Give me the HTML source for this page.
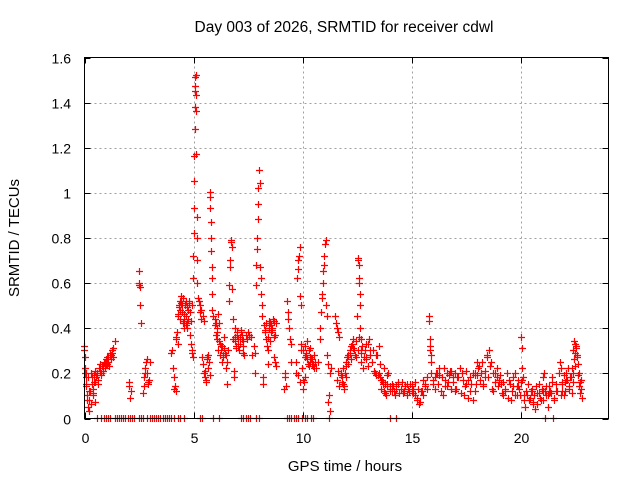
<!DOCTYPE html>
<html><head><meta charset="utf-8"><style>
html,body{margin:0;padding:0;background:#fff;}
svg{display:block;font-family:"Liberation Sans",Arial,sans-serif;}
</style></head><body>
<svg id="chart" width="640" height="480" viewBox="0 0 640 480" xmlns="http://www.w3.org/2000/svg">
<rect width="640" height="480" fill="#fff"/>
<text x="344" y="32" font-size="15.5" text-anchor="middle" fill="#000">Day 003 of 2026, SRMTID for receiver cdwl</text>
<text x="345" y="471" font-size="15" text-anchor="middle" fill="#000">GPS time / hours</text>
<text transform="translate(19,238) rotate(-90)" font-size="15" text-anchor="middle" fill="#000">SRMTID / TECUs</text>
<g id="grid"></g>
<g id="ticks"></g>
<g id="points" stroke="#ff0000" stroke-width="1.2" fill="none"></g>
<rect x="84.5" y="57.5" width="524" height="361" fill="none" stroke="#000" stroke-width="1"/>
</svg>
<script>
const xTicks = [0,5,10,15,20];
const yTicks = [0,0.2,0.4,0.6,0.8,1,1.2,1.4,1.6];
const yTickLabels = ["0","0.2","0.4","0.6","0.8","1","1.2","1.4","1.6"];
const segStart = [0,0.1,0.5,2.05,2.5,2.7,4.0,4.2,4.85,5.0,5.25,5.5,5.75,6.0,6.5,7.0,7.45,7.8,8.25,9.15,9.7,10.1,10.8,11.5,12.0,12.55,12.8,13.5,14.0,15.0,15.8,16.0,17.0,18.0,19.0,20.0,20.3,21.0,21.8,22.3];
const segEnd   = [0.1,0.5,1.4,2.15,2.6,3.0,4.2,4.8,5.0,5.2,5.5,5.75,5.9,6.4,6.95,7.3,7.7,8.2,8.8,9.5,10.1,10.6,11.3,12.0,12.5,12.7,13.5,14.0,15.0,15.7,15.9,17.0,18.0,19.0,20.0,20.2,21.0,21.6,22.2,22.8];
const segValues = [
[0.32,0.3,0.27,0.22,0.2,0.18],
[0.15,0.1,0.05,0.03,0.08,0.12,0.2,0.18,0.13,0.1,0.16,0.21],
[0.16,0.18,0.2,0.15,0.22,0.24,0.19,0.23,0.25,0.22,0.26,0.24,0.27,0.23,0.28,0.26,0.29,0.31,0.34],
[0.16,0.14,0.09,0.12],
[0.65,0.6,0.59,0.58,0.5,0.42],
[0.11,0.14,0.18,0.2,0.22,0.25,0.26,0.2,0.16,0.15,0.17,0.25],
[0.29,0.3,0.22,0.18,0.13,0.14,0.12],
[0.35,0.36,0.38,0.33,0.45,0.5,0.52,0.48,0.54,0.5,0.47,0.42,0.43,0.4,0.5,0.52,0.45,0.42,0.4,0.48,0.51],
[0.37,0.33,0.3,0.29,0.27],
[0.62,0.72,0.82,0.93,1.05,1.16,1.28,1.38,1.45,1.47,1.51,1.52,1.43,1.36,1.17,0.89,0.8,0.7,0.6,0.53],
[0.52,0.5,0.48,0.45,0.43],
[0.2,0.18,0.16,0.27,0.28,0.25,0.19],
[1.0,0.98,0.93,0.87,0.8,0.74,0.67,0.62,0.55,0.48,0.45],
[0.44,0.42,0.4,0.38,0.46,0.42,0.33,0.32,0.3,0.25,0.28,0.31],
[0.28,0.22,0.15,0.25,0.3,0.52,0.59,0.67,0.7,0.78,0.79,0.76,0.57,0.44,0.35,0.21,0.18,0.36,0.4,0.32],
[0.38,0.35,0.32,0.3,0.36,0.33,0.38,0.37,0.34,0.29],
[0.35,0.38,0.37,0.36,0.28],
[0.32,0.29,0.2,0.59,0.68,0.75,0.8,0.88,0.95,1.02,1.1,1.1,1.04,0.67,0.62,0.55,0.5,0.45,0.18,0.15],
[0.41,0.39,0.35,0.32,0.3,0.24,0.43,0.42,0.38,0.4,0.44,0.43,0.36,0.25,0.23],
[0.13,0.2,0.18,0.14,0.52,0.47,0.44,0.4,0.35,0.33,0.25],
[0.2,0.25,0.62,0.66,0.7,0.72,0.76,0.54,0.5,0.3,0.22,0.17,0.13,0.16,0.18],
[0.32,0.28,0.34,0.3,0.25,0.26,0.24,0.22,0.25],
[0.35,0.4,0.47,0.53,0.55,0.6,0.65,0.68,0.72,0.77,0.79,0.5,0.45,0.28,0.24,0.07,0.1,0.03,0.2,0.22],
[0.45,0.42,0.4,0.38,0.36,0.2,0.18,0.15,0.14,0.2,0.23],
[0.25,0.27,0.28,0.3,0.32,0.33,0.35,0.3,0.27,0.45],
[0.71,0.7,0.68,0.62,0.6,0.55,0.5,0.4,0.35,0.3,0.25],
[0.22,0.3,0.26,0.33,0.35,0.28,0.25,0.3,0.2,0.19,0.28,0.32],
[0.2,0.18,0.17,0.15,0.12,0.1,0.14,0.2,0.12],
[0.13,0.15,0.12,0.14,0.16,0.13,0.11,0.14,0.15,0.12,0.14],
[0.15,0.13,0.1,0.08,0.06,0.12,0.17,0.14,0.18],
[0.45,0.43,0.35,0.32,0.3,0.28,0.25,0.2],
[0.15,0.18,0.2,0.22,0.12,0.1,0.17,0.14,0.19,0.21,0.16,0.13],
[0.12,0.18,0.22,0.2,0.1,0.15,0.17,0.12,0.08,0.2,0.19],
[0.25,0.23,0.2,0.15,0.18,0.28,0.3,0.25,0.12,0.2,0.22,0.16],
[0.17,0.15,0.1,0.12,0.2,0.17,0.08,0.14,0.2,0.1,0.13,0.16],
[0.36,0.31,0.22,0.18,0.1,0.05],
[0.1,0.08,0.12,0.06,0.04,0.11,0.15,0.08,0.12],
[0.18,0.2,0.14,0.1,0.12,0.16,0.08,0.12],
[0.25,0.22,0.12,0.1,0.16,0.2,0.17,0.13],
[0.18,0.22,0.3,0.34,0.33,0.31,0.28,0.2,0.16,0.13,0.09]
];
// second pass of readings filling the dense low band
const seg2Start = [0.05,0.6,4.3,5.3,6.0,6.9,8.3,9.8,10.2,11.6,12.1,12.9,13.6,14.1,15.0,16.0,16.9,17.9,18.9,19.9,20.5,21.3,21.9,22.4];
const seg2End   = [0.5,1.35,4.95,5.7,6.45,7.4,8.8,10.5,10.7,12.0,12.9,13.9,14.1,15.0,15.7,16.9,17.9,18.9,19.9,20.5,21.3,21.9,22.4,22.75];
const seg2Values = [
[0.2,0.14,0.08,0.18,0.12,0.06,0.15,0.11,0.19,0.07],
[0.19,0.17,0.21,0.2,0.23,0.21,0.25,0.24,0.27,0.25,0.29,0.28,0.3,0.27],
[0.46,0.49,0.44,0.51,0.47,0.53,0.46,0.41,0.49,0.44,0.52,0.47,0.43,0.5],
[0.47,0.44,0.27,0.24,0.21,0.17,0.26,0.22],
[0.41,0.37,0.35,0.3,0.34,0.28,0.32,0.27,0.36,0.29],
[0.34,0.31,0.37,0.33,0.36,0.39,0.35,0.32,0.28,0.37],
[0.38,0.42,0.36,0.4,0.34,0.41,0.39,0.27,0.37,0.42],
[0.19,0.16,0.33,0.3,0.27,0.29,0.24,0.31,0.26,0.23],
[0.26,0.23,0.27,0.24,0.28,0.22,0.25],
[0.17,0.21,0.14,0.19,0.16,0.22,0.13,0.2,0.18],
[0.24,0.29,0.26,0.31,0.28,0.34,0.3,0.36,0.29,0.32,0.27,0.33],
[0.27,0.23,0.3,0.25,0.21,0.28,0.19,0.24,0.17,0.22,0.15,0.19],
[0.13,0.16,0.11,0.15,0.14,0.12],
[0.12,0.14,0.1,0.13,0.15,0.11,0.13,0.16,0.12,0.14,0.1,0.13,0.15,0.12],
[0.14,0.11,0.16,0.09,0.13,0.07,0.12,0.1,0.15,0.13],
[0.17,0.13,0.2,0.15,0.19,0.12,0.18,0.22,0.14,0.2,0.16,0.21,0.13,0.18],
[0.16,0.2,0.13,0.18,0.22,0.11,0.17,0.14,0.21,0.09,0.18,0.15,0.2,0.12],
[0.19,0.15,0.22,0.17,0.25,0.14,0.21,0.27,0.18,0.23,0.13,0.2,0.16,0.22],
[0.18,0.14,0.19,0.11,0.16,0.13,0.2,0.09,0.15,0.12,0.18,0.1,0.14,0.17],
[0.14,0.1,0.17,0.08,0.12,0.15,0.09,0.13],
[0.12,0.07,0.1,0.14,0.06,0.11,0.09,0.13,0.08,0.12,0.1,0.05,0.11],
[0.14,0.11,0.18,0.09,0.15,0.12,0.2,0.1,0.16],
[0.15,0.19,0.12,0.17,0.22,0.14,0.18,0.11,0.16],
[0.2,0.26,0.23,0.29,0.32,0.27,0.24,0.19,0.14,0.11,0.17]
];
const zeroTimes = [0.6,0.8,0.9,1.0,1.1,1.2,1.4,1.5,1.6,1.7,1.8,1.9,2.0,2.1,2.2,2.3,2.5,2.6,2.7,2.9,3.0,3.1,3.2,3.3,3.4,3.5,3.6,3.7,3.8,3.9,4.0,4.1,4.3,4.4,4.6,5.3,5.4,5.9,6.2,7.2,7.3,7.4,7.5,7.6,7.9,8.0,9.3,9.4,9.5,9.6,9.7,9.8,10.0,10.1,10.2,10.4,10.5,11.2,14.0,14.3,21.1,21.5];

const X0=84.5,X1=608.5,Y0=418.5,Y1=57.5;
const xs = t => X0 + (t/24)*(X1-X0);
const ys = v => Y0 - (v/1.6)*(Y0-Y1);
const NS="http://www.w3.org/2000/svg";
const grid=document.getElementById('grid'), ticks=document.getElementById('ticks'), pts=document.getElementById('points');
function mk(tag,attrs,parent){const e=document.createElementNS(NS,tag);for(const k in attrs)e.setAttribute(k,attrs[k]);parent.appendChild(e);return e;}
xTicks.forEach(t=>{
  const x=Math.round(xs(t))+0.5;
  if(t>0){const g=mk('line',{x1:x,y1:Y0,x2:x,y2:Y1,stroke:'#a0a0a0','stroke-dasharray':'2,3'},grid);
  
  }
  mk('line',{x1:x,y1:Y0,x2:x,y2:Y0-6,stroke:'#000'},ticks);
  mk('line',{x1:x,y1:Y1,x2:x,y2:Y1+6,stroke:'#000'},ticks);
  const tx=mk('text',{x:x,y:443,'font-size':14,'text-anchor':'middle',fill:'#000'},ticks);
  tx.textContent=t;
  
  
});
yTicks.forEach((v,i)=>{
  const y=Math.round(ys(v))+0.5;
  if(v>0&&v<1.6){const g=mk('line',{x1:X0,y1:y,x2:X1,y2:y,stroke:'#a0a0a0','stroke-dasharray':'2,3'},grid);
  
  }
  mk('line',{x1:X0,y1:y,x2:X0+6,y2:y,stroke:'#000'},ticks);
  mk('line',{x1:X1,y1:y,x2:X1-6,y2:y,stroke:'#000'},ticks);
  const tx=mk('text',{x:71,y:y+5,'font-size':14,'text-anchor':'end',fill:'#000'},ticks);
  tx.textContent=yTickLabels[i];
  
  
});
let d='';
function plus(t,v){const x=Math.floor(xs(t))+0.5,y=Math.floor(ys(v))+0.5;d+=`M${x-3.5} ${y}h7M${x} ${y-3.5}v7`;}
function drawSegs(starts,ends,values){
  values.forEach((vals,i)=>{
    const n=vals.length;
    vals.forEach((v,j)=>{const t=starts[i]+(ends[i]-starts[i])*(n>1?j/(n-1):0);plus(t,v);});
  });
}
drawSegs(segStart,segEnd,segValues);
drawSegs(seg2Start,seg2End,seg2Values);
zeroTimes.forEach(t=>plus(t,0));
const p=mk('path',{d:d},pts);


</script>
</body></html>
